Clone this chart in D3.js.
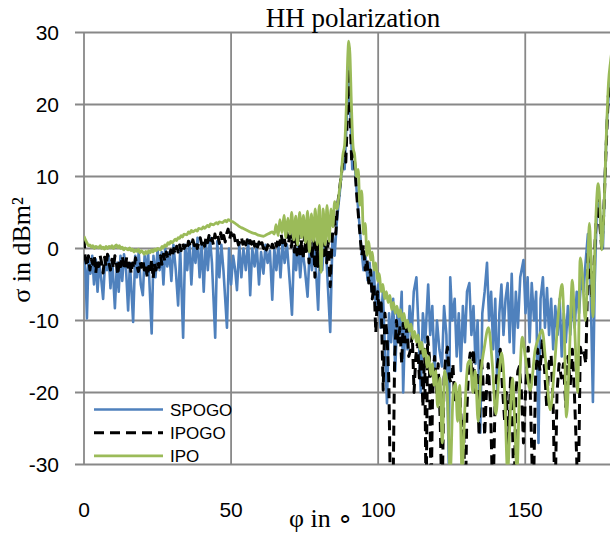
<!DOCTYPE html>
<html><head>
<meta charset="utf-8">
<title>HH polarization</title>
<script src="https://d3js.org/d3.v7.min.js"></script>
<style>
  body { margin: 0; background: #fff; }
  line.grid { stroke: #888; stroke-width: 1.8px; }
  text.tick { font-family: "Liberation Sans", Arial, sans-serif; font-size: 21px; fill: #000; }
  text.legend { font-family: "Liberation Sans", Arial, sans-serif; font-size: 17px; fill: #000; }
  text.serif { font-family: "Liberation Serif", "Times New Roman", serif; font-size: 26px; fill: #000; }
  path.series { fill: none; stroke-linejoin: round; }
</style>
</head>
<body>
<svg id="chart" width="610" height="538"></svg>
<script>
// tick values
const xTicks = [0, 50, 100, 150];
const yTicks = [-30, -20, -10, 0, 10, 20, 30];

// series names, in legend order
const seriesNames = ["SPOGO", "IPOGO", "IPO"];

// SPOGO: [phi in deg, sigma in dBm2]
const spogo = [
  [0,-1.2],[0.5,-3],[1,-9.7],[1.5,-1.5],[2.2,-3.5],[2.8,-1],[3.4,-5],[4,-1.5],[4.6,-6],[5.2,-2],
  [5.8,-4],[6.5,-7],[7.2,-1.5],[7.8,-3],[8.4,-1],[9,-5.5],[9.6,-1.5],[10.5,-8.3],[11.2,-2],[11.8,-6],
  [12.4,-1],[13,-4.5],[13.6,-0.8],[14.3,-3],[15,-8.6],[15.6,-2],[16.7,-10.2],[17.4,-1],[18,-4],[18.6,-0.5],
  [19.3,-5],[20,-6.5],[20.6,-1],[21.2,-3.5],[21.8,-0.5],[23,-11.8],[23.6,-1],[24.3,-4],[25,-0.2],[25.7,-3],
  [26.4,-0.5],[27,-5],[27.6,0],[28.3,-2.5],[29,-0.5],[29.7,-4.5],[30.4,0.5],[31.2,-3],[32,-7.9],[32.7,0],
  [33.7,-12.4],[34.4,0.5],[35.1,-3],[35.8,1],[36.5,-5],[37.2,0.5],[37.9,-2],[38.6,1.5],[39.3,-4],[40,0.5],
  [40.7,-6],[41.4,1],[42.1,-3],[42.8,1.5],[43.5,-2],[44.6,-12.4],[45.3,1],[46,-4],[46.7,0.5],[47.4,-3],
  [48.6,-11],[49.3,0],[50,-5],[50.7,-1],[51.4,-3],[52,-5.8],[52.8,0.5],[53.5,-4],[54.2,0],[55,-3],
  [55.8,1.2],[56.5,-6.5],[57.2,0],[58,-2.5],[58.7,0.5],[59.5,-5],[60.2,-0.5],[61,-3.5],[61.7,0.5],[62.4,-2],
  [63.2,-0.3],[64,-7.1],[64.7,0],[65.4,-3],[66.1,0.5],[66.8,-4],[67.5,0.8],[68.2,-2],[69,0.5],[70,-5],
  [70.7,-9.2],[71.4,0],[72.1,-3],[72.8,0.5],[73.5,-4],[74.2,0],[75,-2.5],[76,-6.7],[76.8,0.5],[77.5,-3],
  [78.2,1],[79,-4],[79.6,-8.5],[80.3,0.5],[81,-3],[81.7,1.5],[82.5,-2],[83.7,-11.6],[84.5,2],[85.2,-1],
  [86,4],[87,8],[88,12.5],[88.6,11],[89.3,18],[90,26],[90.6,18],[91.2,11],[92,12],[92.7,8],
  [93.5,4],[94.3,0],[95,-3],[95.7,-1],[96.4,-4.4],[97.1,-2],[97.8,-6],[98.5,-3],[99.2,-8],[100,-5],
  [100.8,-11],[101.6,-6],[102.3,-14],[103,-21.5],[103.7,-9],[104.4,-13],[105.1,-7],[105.8,-17],[106.5,-9],[107.2,-12],
  [108,-6],[108.5,-20],[109.2,-10],[110,-14],[110.7,-8],[111.4,-12],[112.1,-6],[113,-4],[113.7,-11],[114.5,-20],
  [115.2,-9],[116,-13],[117,-5],[117.7,-12],[118.4,-8],[119.2,-17],[120,-10],[120.8,-14],[121.7,-16.4],[122.4,-8],
  [123.2,-12],[124,-29.8],[124.5,-4],[125.2,-10],[126,-7],[126.7,-15],[127.4,-9],[128.1,-17],[128.8,-8],[129.5,-13],
  [130.2,-6],[131,-4.8],[131.7,-12],[132.4,-8],[133.1,-16],[133.8,-10],[134.7,-25.6],[135.4,-9],[136.2,-6],[137,-2],
  [137.7,-10],[138.4,-6],[139.1,-14],[139.8,-7],[140.5,-20],[141.2,-9],[141.9,-5],[142.6,-12],[143.3,-7],[144,-4.8],
  [144.7,-13],[145.4,-3.5],[146.1,-14.5],[146.8,-6],[147.5,-11],[148.3,-4],[149.4,-1.6],[150.1,-9],[150.8,-4],[151.5,-13],
  [152.2,-4.8],[153,-10],[153.7,-6],[154.5,-27],[155.2,-7],[156,-4],[156.7,-11],[157.4,-5.5],[158.1,-12],[158.8,-7],
  [159.5,-14],[160.2,-8],[161,-12],[161.7,-7],[162.4,-15],[163.1,-9],[163.8,-13],[164.5,-8],[165.3,-12],[166,-7],
  [166.8,-11],[167.5,-6],[168.3,-9],[169,-4],[169.8,-6],[170.5,-2],[171.3,2],[172,-1],[173,-21.3],[173.6,-5],
  [174.3,5],[175,8],[175.7,2],[176.4,0],[177.1,10],[177.8,18],[178.5,22],[179.2,25],[180,28]
];

// IPOGO
const ipogo = [
  [0,1.4],[0.4,-1.3],[1,-2.5],[1.5,-1],[2,-3],[2.5,-1.5],[3,-2.2],[3.5,-1],[4,-3.4],[4.5,-1.5],
  [5,-2.5],[5.5,-1],[6,-2],[6.5,-3.4],[7,-1.2],[7.5,-2.5],[8,-0.8],[8.5,-2],[9,-3],[9.5,-1.5],
  [10,-2.8],[10.5,-1],[11,-2],[11.5,-3.7],[12,-1.5],[12.5,-2.5],[13,-1],[13.5,-2.2],[14,-3],[14.5,-1.2],
  [15,-2.6],[15.5,-1.5],[16,-3.5],[16.5,-2],[17,-2.8],[17.5,-1.3],[18,-2.4],[18.5,-3.2],[19,-1.8],[19.5,-2.6],
  [20,-1.5],[20.5,-3],[21,-2.2],[21.5,-4],[22,-2.5],[22.5,-3.5],[23,-1.5],[23.5,-4.2],[24,-2],[24.5,-3],
  [25,-1.8],[25.5,-2.6],[26,-1],[26.5,-2.2],[27,-0.8],[27.5,-1.8],[28,-0.5],[28.5,-1.5],[29,-1.1],[29.5,-0.2],
  [30,-1.2],[30.5,0],[31,-0.8],[31.5,0.3],[32,-0.5],[32.5,0.5],[33,-0.3],[33.5,0.8],[34,0],[34.5,0.4],
  [35,-0.2],[35.5,1],[36,0.5],[36.5,0.2],[37,1.2],[37.5,0.4],[38,1],[38.5,0],[39,0.8],[39.5,1.5],
  [40,0.6],[40.5,1.2],[41,0.3],[41.5,1.6],[42,0.8],[42.5,1.8],[43,0.9],[43.5,1.4],[44,0.5],[44.5,2],
  [45,1.2],[45.5,1.8],[46,0.7],[46.5,2.2],[47,1],[47.5,1.8],[48,0.9],[48.5,2.1],[49,2.7],[49.5,1.3],
  [50,2.2],[50.5,1.2],[51,1.9],[51.5,0.8],[52,1.4],[52.5,0.5],[53,0.9],[53.5,1.6],[54,0.6],[54.5,1.4],
  [55,0.5],[55.5,1.2],[56,0.3],[56.5,1.1],[57,0.6],[57.5,1.4],[58,0.3],[58.5,1],[59,0.2],[59.5,0.9],
  [60,0.1],[60.5,0.8],[61,0],[61.5,0.6],[62,-0.2],[62.5,0.5],[63,0.2],[63.5,-0.3],[64,0.6],[64.5,0.1],
  [65,1],[65.5,0.3],[66,1.5],[66.5,0.5],[67,2],[67.5,0.8],[68,1.6],[68.5,0.4],[69,2.2],[69.5,0.7],
  [70,1.8],[70.5,0.2],[71,2.1],[71.5,-0.5],[72,1.5],[72.4,-0.9],[73,1.8],[73.5,-1],[74,1.2],[74.5,-1.5],
  [75,2],[75.5,-0.8],[76,1.5],[76.5,-2],[77,1],[77.5,-1.6],[78,2.2],[78.5,-4],[79,0.8],[79.5,-2.5],
  [80,2],[80.5,-3],[81,1.5],[81.5,-1],[82,2.5],[82.5,-2],[83,1],[83.7,-5.3],[84.3,1],[85,4.9],
  [85.6,2],[86.2,6],[86.8,8],[87.4,10],[88,12],[88.5,13.5],[89,12],[89.5,18],[90,25],[90.5,18],
  [91,12],[91.5,13.5],[92,12],[92.6,8],[93.2,5],[93.8,2],[94.4,-1],[95,0.5],[95.6,-3],[96.2,-1.5],
  [96.8,-4.8],[97.4,-3],[98,-7],[98.6,-5],[99.2,-11.7],[99.8,-6],[100.4,-9],[101,-7],[101.7,-19.7],[102.3,-9],
  [103,-12],[103.6,-18],[104.2,-35],[105,-36],[105.6,-15],[106.2,-10],[106.8,-13],[107.4,-11],[108,-16],[108.5,-10.4],
  [109.2,-13],[109.8,-11],[110.4,-15],[111,-14],[111.6,-12],[112.2,-20],[112.8,-15],[113.4,-13],[114,-18],[114.6,-14],
  [115.2,-22],[115.8,-14],[116.3,-36],[116.8,-12.3],[117.4,-15],[118,-35],[118.6,-17],[119.2,-15],[119.8,-20],[120.4,-16],
  [121.1,-24],[121.7,-36],[122.4,-18],[123,-15],[123.6,-13.7],[124.2,-18],[124.8,-18.7],[125.4,-16],[126,-21],[126.6,-19.5],
  [127.2,-24],[127.8,-20],[128.4,-26],[129,-24],[129.6,-36],[130.2,-22],[130.8,-16],[131.3,-14.5],[132,-18],[132.4,-14],
  [133,-20],[133.6,-17],[134.3,-26],[135,-15],[135.6,-18],[136.2,-26],[136.8,-20],[137.4,-16],[138.2,-22],[139,-36],
  [139.8,-20],[140.6,-16],[141.5,-14],[142.2,-19],[143,-24],[143.6,-20],[144.2,-28],[145,-18],[145.6,-23],[146.2,-36],
  [146.8,-20],[147.5,-17],[148,-16.4],[148.7,-20],[149.4,-27],[150.2,-19],[151,-13.7],[151.7,-20],[152.7,-36],[153.5,-18],
  [154.2,-14],[155,-17],[155.8,-12.8],[156.6,-17],[157.3,-22],[158,-16],[158.8,-14.8],[159.5,-22],[160.1,-36],[160.8,-20],
  [161.5,-16],[162.3,-18],[163,-16],[163.8,-22],[164.5,-15],[165.3,-19],[166,-14],[166.7,-20],[167.4,-28],[168,-36],
  [168.7,-13.7],[169.3,-15],[170,-14.5],[170.6,-16],[171.4,-0.2],[172,-3],[172.6,-7],[173.4,-2],[174.1,4],[174.8,7.2],
  [175.4,3],[176,0],[176.7,5],[177.4,13],[178.2,21],[179,24],[180,27]
];

// IPO
const ipo = [
  [0,1.7],[0.5,1.2],[1,0.8],[1.5,0.4],[2,0.5],[2.5,0.2],[3,0.4],[3.5,0],[4,0.3],[5,0.1],
  [5.5,0.4],[6,0],[6.5,0.2],[7,-0.1],[7.5,0.3],[8,0],[8.5,0.3],[9,0.1],[9.5,0.4],[10,0],
  [10.5,0.3],[11,0.5],[11.5,0.1],[12,0.4],[12.5,0],[13,0.2],[13.5,-0.2],[14,0.1],[15,-0.2],[15.5,0.1],
  [16,-0.3],[16.5,-0.1],[17,-0.5],[17.5,-0.2],[18,-0.4],[18.5,-0.1],[19,-0.6],[19.5,-0.3],[20,-0.5],[20.5,-0.8],
  [21,-0.4],[21.5,-0.7],[22,-0.3],[22.5,-0.6],[23,-0.2],[23.5,-0.5],[24,-0.1],[24.5,-0.3],[25,0],[26,-0.2],
  [26.5,0.3],[27,0.1],[27.5,0.5],[28,0.3],[28.5,0.8],[29,0.6],[29.5,1],[30,0.8],[31,1.3],[31.5,1.1],
  [32,1.5],[32.5,1.4],[33,1.8],[33.5,1.6],[34,2],[35,1.9],[35.5,2.3],[36,2.1],[36.5,2.5],[37,2.3],
  [38,2.6],[38.5,2.4],[39,2.8],[40,2.7],[40.5,3],[41,2.8],[42,3.2],[42.5,3],[43,3.4],[44,3.3],
  [45,3.6],[45.5,3.4],[46,3.7],[47,3.6],[48,3.9],[48.5,3.7],[49,4],[50,3.8],[51,3.6],[52,3.3],
  [53,3],[54,2.8],[55,2.6],[56,2.4],[57,2.2],[58,2.1],[59,1.9],[60,1.8],[61,1.7],[62,1.9],
  [63,2.1],[64,2.3],[64.7,2],[65.3,3.3],[66,1.8],[66.6,4],[67.3,2.2],[68,4.6],[68.6,1.5],[69.3,4.2],
  [70,2],[70.6,5],[71.3,1.2],[72,4.5],[72.6,0.5],[73.3,5],[74,1.5],[74.6,4.6],[75.3,0.8],[76,5.2],
  [76.6,-0.5],[77.3,4.8],[78,1],[78.6,5.5],[79.3,0.5],[80,6],[80.6,-3.3],[81.3,5.5],[82,0.5],[82.6,6],
  [83.3,1],[84,5.5],[84.6,3],[85.2,6.5],[86,5.5],[86.8,8],[87.4,10],[88,13],[88.6,14.4],[89.2,20],
  [89.7,27],[90,28.8],[90.4,27],[90.9,20],[91.5,14],[92,13],[92.6,10],[93.2,11],[93.8,6],[94.4,8],
  [95,2],[95.6,3.5],[96.2,-1],[96.8,1],[97.4,-1.6],[98,-0.5],[98.6,-3],[99.2,-2],[99.8,-4.5],[100.4,-3.5],
  [101,-6],[101.6,-5],[102.2,-7],[102.8,-6],[103.4,-7.5],[104,-6.5],[104.6,-8.5],[105.2,-7.5],[105.8,-9],[106.4,-8],
  [107,-9.5],[107.6,-8.5],[108.2,-10],[108.8,-9],[109.4,-11],[110,-10],[110.6,-11.5],[111.2,-10.5],[111.8,-12.5],[112.4,-11.5],
  [113,-13],[113.6,-12],[114.2,-14],[114.8,-13],[115.4,-15],[116,-14],[116.6,-16.5],[117.2,-15],[117.8,-17.5],[118.4,-16],
  [119,-19],[119.6,-17],[120.2,-22],[121,-18],[121.8,-27],[122.6,-17],[123.4,-19],[124.5,-31],[125.5,-20],[126.3,-18.7],
  [127,-24],[127.7,-19],[128.5,-31],[129.5,-22],[130.5,-16],[131.3,-15.5],[132.2,-20],[133,-17],[134,-24],[135,-17],
  [136,-14],[137.5,-11],[138.8,-16],[140,-23],[141,-18],[142,-14.5],[143,-20],[144,-31],[145,-22],[145.7,-18],
  [146.4,-24],[147.2,-31],[148,-20],[149,-12.3],[150,-15],[151.7,-19.7],[153.4,-14],[154.5,-12.5],[155.7,-11.3],[157,-16],
  [158.5,-22.4],[160,-16],[161.5,-8],[162.5,-5],[163.3,-12],[164,-23.4],[165,-15],[166,-4.4],[166.9,-12],[167.8,-20],
  [168.7,-1.3],[169.5,-4],[170.4,-10],[171.2,-3],[171.8,3.5],[172.4,-2],[173,-9.5],[173.8,2],[174.8,9],[175.4,6],
  [176,-0.2],[176.8,6],[177.5,15],[178.3,23],[179,26],[180,29]
];

const svg = d3.select("#chart");

// plot area: 0..180 deg runs a bit past the right edge of the picture
const x = d3.scaleLinear().domain([0, 180]).range([84, 613.5]);
const y = d3.scaleLinear().domain([-30, 30]).range([464.5, 32.5]);

svg.append("rect").attr("width", 610).attr("height", 538).attr("fill", "#fff");

// gridlines (horizontal ones stick out a little on the left as ticks)
svg.append("g").selectAll("line.h").data(yTicks).join("line")
   .attr("class", "grid")
   .attr("x1", 75).attr("x2", 610)
   .attr("y1", d => y(d)).attr("y2", d => y(d));

svg.append("g").selectAll("line.v").data(xTicks).join("line")
   .attr("class", "grid")
   .attr("x1", d => x(d)).attr("x2", d => x(d))
   .attr("y1", y(30)).attr("y2", y(-30));

// tick labels
svg.append("g").selectAll("text").data(yTicks).join("text")
   .attr("class", "tick")
   .attr("x", 59).attr("y", d => y(d)).attr("dy", "0.36em")
   .attr("text-anchor", "end")
   .text(d => d);

svg.append("g").selectAll("text").data(xTicks).join("text")
   .attr("class", "tick")
   .attr("x", d => x(d)).attr("y", 517)
   .attr("text-anchor", "middle")
   .text(d => d);

// clip the curves to the plot frame
svg.append("clipPath").attr("id", "plotclip")
   .append("rect")
   .attr("x", x(0)).attr("y", y(30) - 2)
   .attr("width", 610 - x(0)).attr("height", y(-30) - y(30) + 2);

// blue and black are spiky, green swings smoothly
const styles = {
  SPOGO: { color: "#4f81bd", width: 2.6, dash: null, curve: d3.curveLinear },
  IPOGO: { color: "#000000", width: 3, dash: "10,6", curve: d3.curveLinear },
  IPO:   { color: "#9bbb59", width: 2.8, dash: null, curve: d3.curveMonotoneX }
};
const seriesData = { SPOGO: spogo, IPOGO: ipogo, IPO: ipo };

const plot = svg.append("g").attr("clip-path", "url(#plotclip)");
seriesNames.forEach(name => {
  const line = d3.line()
     .x(d => x(d[0]))
     .y(d => y(d[1]))
     .curve(styles[name].curve);
  plot.append("path")
      .datum(seriesData[name])
      .attr("class", "series")
      .attr("stroke", styles[name].color)
      .attr("stroke-width", styles[name].width)
      .attr("stroke-dasharray", styles[name].dash)
      .attr("d", line);
});

// legend, bottom left inside the plot
const legend = svg.append("g").selectAll("g").data(seriesNames).join("g")
   .attr("transform", (d, i) => `translate(94,${409.5 + i * 23.2})`);
legend.append("line")
   .attr("x1", 0).attr("x2", 69)
   .attr("stroke", d => styles[d].color)
   .attr("stroke-width", d => styles[d].width)
   .attr("stroke-dasharray", d => styles[d].dash);
legend.append("text")
   .attr("class", "legend")
   .attr("x", 76).attr("dy", "0.36em")
   .text(d => d);

// titles
svg.append("text").attr("class", "serif")
   .attr("x", 353).attr("y", 27)
   .attr("text-anchor", "middle")
   .style("font-size", "27px")
   .text("HH polarization");

svg.append("text").attr("class", "serif")
   .attr("transform", "translate(30,250) rotate(-90)")
   .attr("text-anchor", "middle")
   .text("σ in dBm²");

svg.append("text").attr("class", "serif")
   .attr("x", 289).attr("y", 527)
   .text("φ in ∘");
</script>
</body>
</html>
